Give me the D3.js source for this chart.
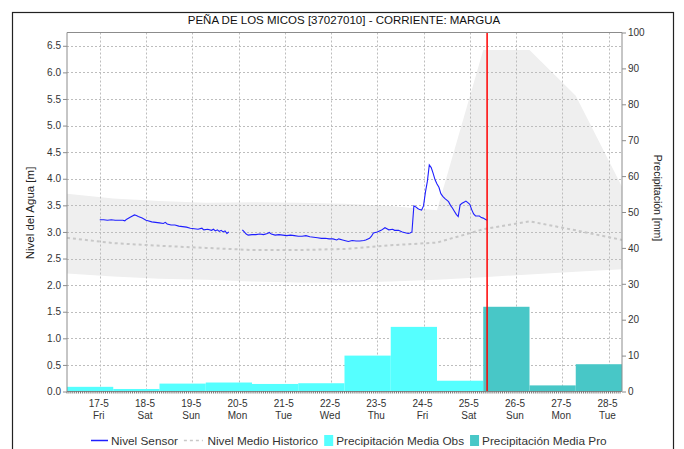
<!DOCTYPE html>
<html>
<head>
<meta charset="utf-8">
<script src="https://cdn.jsdelivr.net/npm/d3@7"></script>
<style>
  body { margin: 0; background: #fff; }
  svg { display: block; font-family: "Liberation Sans", Arial, sans-serif; }
</style>
</head>
<body>
<svg id="chart" width="684" height="449"></svg>
<script>
// ---- Data -------------------------------------------------------------
const titleText = "PEÑA DE LOS MICOS [37027010] - CORRIENTE: MARGUA";

// Daily precipitation bins (each bin starts at 07:00 of the given day), mm
const precipObsDays = ["2019-05-16", "2019-05-17", "2019-05-18", "2019-05-19", "2019-05-20",
                       "2019-05-21", "2019-05-22", "2019-05-23", "2019-05-24"];
const precipObs = [1.3, 0.7, 2.2, 2.5, 2.1, 2.3, 10.0, 18.0, 3.0];
const precipProDays = ["2019-05-25", "2019-05-26", "2019-05-27"];
const precipPro = [23.6, 1.7, 7.6];

// Historical statistics at 07:00 of each day, m
const histDays = ["2019-05-16", "2019-05-17", "2019-05-18", "2019-05-19", "2019-05-20", "2019-05-21",
                  "2019-05-22", "2019-05-23", "2019-05-24", "2019-05-25", "2019-05-26", "2019-05-27", "2019-05-28"];
const histMax  = [3.72, 3.63, 3.58, 3.55, 3.56, 3.55, 3.53, 3.49, 3.41, 6.42, 6.42, 5.56, 3.85];
const histMin  = [2.22, 2.16, 2.12, 2.10, 2.07, 2.05, 2.05, 2.07, 2.10, 2.15, 2.20, 2.25, 2.30];
const histMean = [2.89, 2.79, 2.74, 2.70, 2.66, 2.66, 2.68, 2.75, 2.80, 3.05, 3.20, 3.03, 2.85];

// Sensor water level (null marks a gap in the record), m
const sensorTimes = [
  "2019-05-17 00:00","2019-05-17 02:00","2019-05-17 04:00","2019-05-17 06:00","2019-05-17 08:00","2019-05-17 10:00",
  "2019-05-17 12:00","2019-05-17 13:00","2019-05-17 14:00","2019-05-17 16:00","2019-05-17 18:00","2019-05-17 19:00",
  "2019-05-17 20:00","2019-05-17 22:00",
  "2019-05-18 00:00","2019-05-18 01:00","2019-05-18 03:00","2019-05-18 05:00","2019-05-18 07:00","2019-05-18 09:00",
  "2019-05-18 10:00","2019-05-18 11:00","2019-05-18 13:00","2019-05-18 15:00","2019-05-18 17:00","2019-05-18 19:00",
  "2019-05-18 21:00","2019-05-18 23:00",
  "2019-05-19 01:00","2019-05-19 03:00","2019-05-19 05:00","2019-05-19 06:00","2019-05-19 08:00","2019-05-19 10:00",
  "2019-05-19 11:00","2019-05-19 12:00","2019-05-19 13:00","2019-05-19 14:00","2019-05-19 15:00","2019-05-19 16:00",
  "2019-05-19 17:00","2019-05-19 18:00","2019-05-19 19:00","2019-05-19 23:00",
  "2019-05-20 02:00","2019-05-20 03:00","2019-05-20 04:00","2019-05-20 05:00","2019-05-20 07:00","2019-05-20 09:00",
  "2019-05-20 11:00","2019-05-20 13:00","2019-05-20 15:00","2019-05-20 16:00","2019-05-20 17:00","2019-05-20 19:00",
  "2019-05-20 21:00","2019-05-20 23:00",
  "2019-05-21 01:00","2019-05-21 03:00","2019-05-21 05:00","2019-05-21 07:00","2019-05-21 09:00","2019-05-21 11:00",
  "2019-05-21 13:00","2019-05-21 15:00","2019-05-21 17:00","2019-05-21 19:00","2019-05-21 21:00","2019-05-21 23:00",
  "2019-05-22 01:00","2019-05-22 03:00","2019-05-22 04:00","2019-05-22 06:00","2019-05-22 08:00","2019-05-22 09:00",
  "2019-05-22 11:00","2019-05-22 13:00","2019-05-22 15:00","2019-05-22 17:00","2019-05-22 18:00","2019-05-22 20:00",
  "2019-05-22 21:00","2019-05-22 22:00",
  "2019-05-23 00:00","2019-05-23 02:00","2019-05-23 04:00","2019-05-23 05:00","2019-05-23 06:00","2019-05-23 08:00",
  "2019-05-23 09:00","2019-05-23 11:00","2019-05-23 13:00","2019-05-23 15:00","2019-05-23 16:00","2019-05-23 17:00",
  "2019-05-23 18:00","2019-05-23 19:00","2019-05-23 20:00","2019-05-23 21:00","2019-05-23 22:00","2019-05-23 23:00",
  "2019-05-24 00:00","2019-05-24 01:00","2019-05-24 02:00","2019-05-24 03:00","2019-05-24 04:00","2019-05-24 05:00",
  "2019-05-24 06:00","2019-05-24 07:00","2019-05-24 08:00","2019-05-24 09:00","2019-05-24 10:00","2019-05-24 11:00",
  "2019-05-24 13:00","2019-05-24 14:00","2019-05-24 15:00","2019-05-24 16:00","2019-05-24 17:00","2019-05-24 18:00",
  "2019-05-24 19:00","2019-05-24 20:00","2019-05-24 21:00","2019-05-24 22:00","2019-05-24 23:00",
  "2019-05-25 00:00","2019-05-25 01:00","2019-05-25 02:00","2019-05-25 03:00","2019-05-25 04:00","2019-05-25 05:00",
  "2019-05-25 06:00","2019-05-25 07:00","2019-05-25 08:00","2019-05-25 09:00"
];
const sensorLevels = [
  3.23, 3.23, 3.22, 3.23, 3.22, 3.22, 3.22, 3.21, 3.24, 3.28, 3.32, 3.31, 3.29, 3.26,
  3.22, 3.21, 3.19, 3.18, 3.17, 3.16, 3.18, 3.15, 3.13, 3.13, 3.11, 3.10, 3.09, 3.07,
  3.06, 3.05, 3.07, 3.04, 3.05, 3.03, 3.05, 3.02, 3.04, 3.01, 3.03, 3.00, 3.02, 2.97, 3.00, null,
  3.04, 3.00, 2.96, 2.94, 2.95, 2.95, 2.96, 2.95, 2.97, 2.99, 2.96, 2.94, 2.95, 2.94,
  2.93, 2.94, 2.93, 2.92, 2.92, 2.93, 2.91, 2.90, 2.89, 2.88, 2.88, 2.87,
  2.87, 2.85, 2.87, 2.85, 2.83, 2.82, 2.84, 2.83, 2.83, 2.84, 2.85, 2.88, 2.92, 2.98,
  3.00, 3.03, 3.08, 3.06, 3.04, 3.05, 3.03, 3.03, 3.00, 2.98, 2.97, 2.98, 3.00, 3.49, 3.47, 3.44, 3.42, 3.41,
  3.49, 3.75, 3.95, 4.26, 4.21, 4.10, 3.98, 3.90, 3.84, 3.72, 3.67, 3.63, 3.57, 3.50, 3.45, 3.39, 3.33, 3.29,
  3.51, 3.54, 3.56, 3.58, 3.55,
  3.52, 3.42, 3.34, 3.30, 3.30, 3.30, 3.27, 3.26, 3.24, 3.22
];

const nowTime = "2019-05-25 09:00";
const xStart = "2019-05-16 07:00", xEnd = "2019-05-28 07:00";
const levelTicks = [0, 0.5, 1, 1.5, 2, 2.5, 3, 3.5, 4, 4.5, 5, 5.5, 6, 6.5];
const precipTicks = [0, 10, 20, 30, 40, 50, 60, 70, 80, 90, 100];

const legendItems = [
  { label: "Nivel Sensor", kind: "line" },
  { label: "Nivel Medio Historico", kind: "dash" },
  { label: "Precipitación Media Obs", kind: "obs" },
  { label: "Precipitación Media Pro", kind: "pro" }
];

// ---- Setup ------------------------------------------------------------
const parseT = d3.timeParse("%Y-%m-%d %H:%M");
const parseD = s => parseT(s + " 07:00");

const svg = d3.select("#chart");
const plot = { left: 67, right: 622, top: 32.5, bottom: 391.5 };

const x = d3.scaleTime().domain([parseT(xStart), parseT(xEnd)]).range([plot.left, plot.right]);
const yL = d3.scaleLinear().domain([0, 6.75]).range([plot.bottom, plot.top]);
const yR = d3.scaleLinear().domain([0, 100]).range([plot.bottom, plot.top]);

const colors = {
  sensor: "#1f1fff", mean: "#c8c8c8", band: "#efefef",
  obs: "#55ffff", pro: "#48c7c7", now: "#ff0000", grid: "#bdbdbd", axis: "#8c8c8c"
};

// Outer frame
svg.append("rect").attr("x", 12.5).attr("y", 12.5).attr("width", 661).attr("height", 460)
  .attr("fill", "none").attr("stroke", "#222").attr("stroke-width", 1.2);

// Title
svg.append("text").attr("x", 344).attr("y", 24).attr("text-anchor", "middle")
  .attr("font-size", 11.5).attr("fill", "#111").text(titleText);

// Historical range band
const hist = histDays.map((d, i) => ({ t: parseD(d), lo: histMin[i], hi: histMax[i], m: histMean[i] }));
svg.append("path").datum(hist)
  .attr("fill", colors.band)
  .attr("d", d3.area().x(d => x(d.t)).y0(d => yL(d.lo)).y1(d => yL(d.hi)));

// Gridlines
const days = d3.timeDay.range(parseT("2019-05-17 00:00"), parseT("2019-05-28 12:00"));
const grid = svg.append("g").attr("stroke", colors.grid).attr("stroke-dasharray", "2,2").attr("stroke-width", 1);
grid.selectAll("line.h").data(levelTicks.filter(v => v > 0)).join("line")
  .attr("x1", plot.left).attr("x2", plot.right)
  .attr("y1", d => Math.round(yL(d)) + 0.5).attr("y2", d => Math.round(yL(d)) + 0.5);
grid.selectAll("line.v").data(days).join("line")
  .attr("y1", plot.top).attr("y2", plot.bottom)
  .attr("x1", d => Math.round(x(d)) + 0.5).attr("x2", d => Math.round(x(d)) + 0.5);

// Historical mean
svg.append("path").datum(hist)
  .attr("fill", "none").attr("stroke", colors.mean).attr("stroke-width", 2).attr("stroke-dasharray", "3,3")
  .attr("d", d3.line().x(d => x(d.t)).y(d => yL(d.m)));

// Sensor level
const sensor = sensorTimes.map((t, i) => ({ t: parseT(t), v: sensorLevels[i] }));
svg.append("path").datum(sensor)
  .attr("fill", "none").attr("stroke", colors.sensor).attr("stroke-width", 1.1)
  .attr("d", d3.line().defined(d => d.v !== null).x(d => x(d.t)).y(d => yL(d.v)));

// Precipitation bars
function bars(daysArr, vals, fill) {
  const data = daysArr.map((d, i) => ({ t0: parseD(d), t1: d3.timeDay.offset(parseD(d), 1), v: vals[i] }));
  svg.append("g").selectAll("rect").data(data).join("rect")
    .attr("x", d => x(d.t0)).attr("width", d => x(d.t1) - x(d.t0))
    .attr("y", d => yR(d.v)).attr("height", d => yR(0) - yR(d.v))
    .attr("fill", fill);
}
bars(precipObsDays, precipObs, colors.obs);
bars(precipProDays, precipPro, colors.pro);

// Current time marker
svg.append("line")
  .attr("x1", x(parseT(nowTime))).attr("x2", x(parseT(nowTime)))
  .attr("y1", plot.top).attr("y2", plot.bottom)
  .attr("stroke", colors.now).attr("stroke-width", 1.5);

// Plot frame (top edge)
svg.append("line").attr("x1", plot.left).attr("x2", plot.right)
  .attr("y1", plot.top).attr("y2", plot.top).attr("stroke", colors.axis);

// Axes
const tickFont = g => g.selectAll("text").attr("font-size", 10).attr("fill", "#333")
  .attr("font-family", "\"Liberation Sans\", Arial, sans-serif");

const leftAxis = svg.append("g").attr("transform", `translate(${plot.left},0)`)
  .call(d3.axisLeft(yL).tickValues(levelTicks).tickFormat(d3.format(".1f")).tickSize(4).tickPadding(2));
leftAxis.select(".domain").attr("stroke", colors.axis).attr("d", `M0,${plot.top}V${plot.bottom}`);
leftAxis.selectAll(".tick line").attr("stroke", colors.axis);
tickFont(leftAxis);

const rightAxis = svg.append("g").attr("transform", `translate(${plot.right},0)`)
  .call(d3.axisRight(yR).tickValues(precipTicks).tickSize(4).tickPadding(2));
rightAxis.select(".domain").attr("stroke", colors.axis).attr("d", `M0,${plot.top}V${plot.bottom}`);
rightAxis.selectAll(".tick line").attr("stroke", colors.axis);
tickFont(rightAxis);

// Bottom axis: hourly minor ticks and day labels on two lines
const bottom = svg.append("g").attr("transform", `translate(0,${plot.bottom})`);
bottom.append("line").attr("x1", plot.left).attr("x2", plot.right).attr("stroke", colors.axis);
bottom.selectAll("line.minor").data(d3.timeHour.every(1).range(parseT(xStart), parseT(xEnd)))
  .join("line").attr("class", "minor")
  .attr("x1", d => x(d)).attr("x2", d => x(d)).attr("y1", 0).attr("y2", 2)
  .attr("stroke", "#555").attr("stroke-width", 0.8);
const fmtDay = d3.timeFormat("%-d-%-m"), fmtWk = d3.timeFormat("%a");
const lab = bottom.selectAll("g.lab").data(days).join("g").attr("class", "lab")
  .attr("transform", d => `translate(${x(d) - 1},0)`);
lab.append("text").attr("y", 15).attr("text-anchor", "middle").attr("font-size", 10).attr("fill", "#333").text(fmtDay);
lab.append("text").attr("y", 27).attr("text-anchor", "middle").attr("font-size", 10).attr("fill", "#333").text(fmtWk);

// Axis titles
svg.append("text").attr("transform", "translate(34,213) rotate(-90)").attr("text-anchor", "middle")
  .attr("font-size", 11.5).attr("fill", "#222").text("Nivel del Agua [m]");
svg.append("text").attr("transform", "translate(654,198) rotate(90)").attr("text-anchor", "middle")
  .attr("font-size", 10.5).attr("fill", "#222").text("Precipitación [mm]");

// Legend
const legend = svg.append("g").attr("transform", "translate(91,441)");
let lx = 0;
legendItems.forEach(item => {
  const g = legend.append("g").attr("transform", `translate(${lx},0)`);
  let w;
  if (item.kind === "line") {
    g.append("line").attr("x1", 0).attr("x2", 17).attr("y1", -0.5).attr("y2", -0.5)
      .attr("stroke", colors.sensor).attr("stroke-width", 1.5);
    w = 20;
  } else if (item.kind === "dash") {
    g.append("line").attr("x1", 0).attr("x2", 19).attr("y1", -0.5).attr("y2", -0.5)
      .attr("stroke", colors.mean).attr("stroke-width", 1.5).attr("stroke-dasharray", "3,3");
    w = 23.5;
  } else {
    g.append("rect").attr("x", 0).attr("y", -6).attr("width", 9).attr("height", 11)
      .attr("fill", item.kind === "obs" ? colors.obs : colors.pro);
    w = 12;
  }
  const t = g.append("text").attr("x", w).attr("y", 4).attr("font-size", 11.8).attr("fill", "#333").text(item.label);
  lx += w + t.node().getComputedTextLength() + 6;
});
</script>
</body>
</html>
